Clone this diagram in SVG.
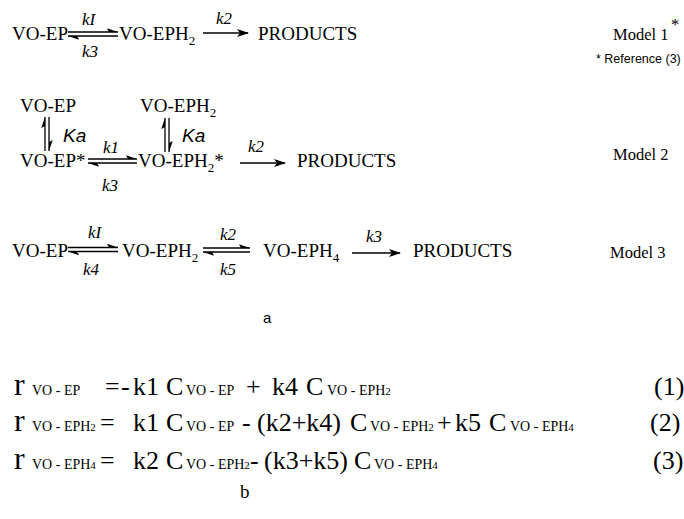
<svg xmlns="http://www.w3.org/2000/svg" width="684" height="519" viewBox="0 0 684 519">
<defs>
<style>
.t{font-family:"Liberation Serif","Times New Roman",serif;font-size:19px;fill:#000}
.sb{font-size:13px}
.k{font-family:"Liberation Serif","Times New Roman",serif;font-style:italic;font-size:17px;fill:#000}
.ka{font-family:"Liberation Sans",Arial,sans-serif;font-style:italic;font-size:19px;fill:#000}
.m{font-family:"Liberation Serif","Times New Roman",serif;font-size:16.5px;fill:#000}
.s{font-family:"Liberation Sans",Arial,sans-serif;fill:#000}
.e{font-family:"Liberation Serif","Times New Roman",serif;font-size:26px;fill:#000}
.r{font-family:"Liberation Serif","Times New Roman",serif;font-size:32px;fill:#000}
.u{font-family:"Liberation Serif","Times New Roman",serif;font-size:14px;fill:#000}
.u2{font-size:11px}
.ln{stroke:#000;stroke-width:1.3;fill:none}
.hd{fill:#000;stroke:none}
</style>
<marker id="ah" viewBox="0 0 12 8" refX="11" refY="4" markerWidth="12" markerHeight="8" markerUnits="userSpaceOnUse" orient="auto">
<path d="M0,0 L12,4 L0,8 L3,4 Z" fill="#000"/>
</marker>
</defs>

<g id="connectors">
<!-- Model 1 -->
<line class="ln" x1="68" y1="32" x2="118" y2="32"/>
<path class="hd" d="M118,32 L107,28.3 L109,32 Z"/>
<line class="ln" x1="68" y1="36" x2="118" y2="36"/>
<path class="hd" d="M68,36 L79,39.7 L77,36 Z"/>
<line class="ln" x1="203" y1="33" x2="248" y2="33" marker-end="url(#ah)"/>
<!-- Model 2 -->
<line class="ln" x1="45" y1="151" x2="45" y2="117"/>
<path class="hd" d="M45,117 L41.3,128 L45,126 Z"/>
<line class="ln" x1="49" y1="117" x2="49" y2="151"/>
<path class="hd" d="M49,151 L52.7,140 L49,142 Z"/>
<line class="ln" x1="165" y1="152" x2="165" y2="118"/>
<path class="hd" d="M165,118 L161.3,129 L165,127 Z"/>
<line class="ln" x1="169" y1="118" x2="169" y2="152"/>
<path class="hd" d="M169,152 L172.7,141 L169,143 Z"/>
<line class="ln" x1="88" y1="159" x2="137" y2="159"/>
<path class="hd" d="M137,159 L126,155.3 L128,159 Z"/>
<line class="ln" x1="88" y1="163" x2="137" y2="163"/>
<path class="hd" d="M88,163 L99,166.7 L97,163 Z"/>
<line class="ln" x1="240" y1="163" x2="285" y2="163" marker-end="url(#ah)"/>
<!-- Model 3 -->
<line class="ln" x1="68" y1="247.5" x2="118" y2="247.5"/>
<path class="hd" d="M118,247.5 L107,243.8 L109,247.5 Z"/>
<line class="ln" x1="68" y1="251.5" x2="118" y2="251.5"/>
<path class="hd" d="M68,251.5 L79,255.2 L77,251.5 Z"/>
<line class="ln" x1="203" y1="248" x2="250" y2="248"/>
<path class="hd" d="M250,248 L239,244.3 L241,248 Z"/>
<line class="ln" x1="203" y1="252" x2="250" y2="252"/>
<path class="hd" d="M203,252 L214,255.7 L212,252 Z"/>
<line class="ln" x1="352" y1="253" x2="400" y2="253" marker-end="url(#ah)"/>
</g>

<g id="model1">
<g id="m1-voep"><text class="t" x="12" y="40">VO-EP</text></g>
<g id="m1-voeph2"><text class="t" x="119" y="40">VO-EPH<tspan class="sb" dy="5">2</tspan></text></g>
<g id="m1-products"><text class="t" x="258" y="40">PRODUCTS</text></g>
<text class="k" x="82" y="25">kI</text>
<text class="k" x="82" y="57">k3</text>
<text class="k" x="216" y="24">k2</text>
<text class="m" x="613" y="40">Model 1</text>
<text class="m" x="671" y="30" font-size="11">*</text>
<text class="s" x="596" y="63" font-size="12.5">* Reference (3)</text>
</g>

<g id="model2">
<g id="m2-voep"><text class="t" x="20" y="112">VO-EP</text></g>
<g id="m2-voeph2"><text class="t" x="140" y="112">VO-EPH<tspan class="sb" dy="5">2</tspan></text></g>
<g id="m2-voepstar"><text class="t" x="20" y="167">VO-EP*</text></g>
<g id="m2-voeph2star"><text class="t" x="138" y="167">VO-EPH<tspan class="sb" dy="5">2</tspan><tspan dy="-5">*</tspan></text></g>
<g id="m2-products"><text class="t" x="297" y="167">PRODUCTS</text></g>
<text class="ka" x="63" y="142">Ka</text>
<text class="ka" x="182" y="142">Ka</text>
<text class="k" x="103" y="153">k1</text>
<text class="k" x="102" y="191">k3</text>
<text class="k" x="248" y="152">k2</text>
<text class="m" x="613" y="160">Model 2</text>
</g>

<g id="model3">
<g id="m3-voep"><text class="t" x="12" y="257">VO-EP</text></g>
<g id="m3-voeph2"><text class="t" x="122" y="257">VO-EPH<tspan class="sb" dy="5">2</tspan></text></g>
<g id="m3-voeph4"><text class="t" x="263" y="257">VO-EPH<tspan class="sb" dy="5">4</tspan></text></g>
<g id="m3-products"><text class="t" x="413" y="257">PRODUCTS</text></g>
<text class="k" x="88" y="238">kI</text>
<text class="k" x="83" y="275">k4</text>
<text class="k" x="220" y="240">k2</text>
<text class="k" x="220" y="275">k5</text>
<text class="k" x="366" y="242">k3</text>
<text class="m" x="610" y="258">Model 3</text>
</g>

<text class="s" x="263" y="323" font-size="15">a</text>

<g id="eq1">
<text class="r" x="14" y="395">r</text>
<text class="u" x="32" y="395">VO - EP</text>
<text class="e" x="105" y="395">=</text>
<text class="e" x="121" y="395">-</text>
<text class="e" x="133" y="395">k1</text>
<text class="e" x="166" y="395">C</text>
<text class="u" x="186" y="395">VO - EP</text>
<text class="e" x="246" y="395">+</text>
<text class="e" x="272" y="395">k4</text>
<text class="e" x="306" y="395">C</text>
<text class="u" x="327" y="395">VO - EPH<tspan class="u2">2</tspan></text>
<text class="e" x="654" y="395">(1)</text>
</g>

<g id="eq2">
<text class="r" x="14" y="431">r</text>
<text class="u" x="32" y="431">VO - EPH<tspan class="u2">2</tspan></text>
<text class="e" x="100" y="431">=</text>
<text class="e" x="133" y="431">k1</text>
<text class="e" x="166" y="431">C</text>
<text class="u" x="186" y="431">VO - EP</text>
<text class="e" x="242" y="431">-</text>
<text class="e" x="257" y="431">(k2+k4)</text>
<text class="e" x="350" y="431">C</text>
<text class="u" x="370" y="431">VO - EPH<tspan class="u2">2</tspan></text>
<text class="e" x="437" y="431">+</text>
<text class="e" x="455" y="431">k5</text>
<text class="e" x="489" y="431">C</text>
<text class="u" x="510" y="431">VO - EPH<tspan class="u2">4</tspan></text>
<text class="e" x="650" y="431">(2)</text>
</g>

<g id="eq3">
<text class="r" x="14" y="469">r</text>
<text class="u" x="32" y="469">VO - EPH<tspan class="u2">4</tspan></text>
<text class="e" x="100" y="469">=</text>
<text class="e" x="133" y="469">k2</text>
<text class="e" x="166" y="469">C</text>
<text class="u" x="186" y="469">VO - EPH<tspan class="u2">2</tspan></text>
<text class="e" x="250" y="469">-</text>
<text class="e" x="264" y="469">(k3+k5)</text>
<text class="e" x="354" y="469">C</text>
<text class="u" x="374" y="469">VO - EPH<tspan class="u2">4</tspan></text>
<text class="e" x="653" y="469">(3)</text>
</g>

<text class="t" x="240" y="498" font-size="16">b</text>
</svg>
